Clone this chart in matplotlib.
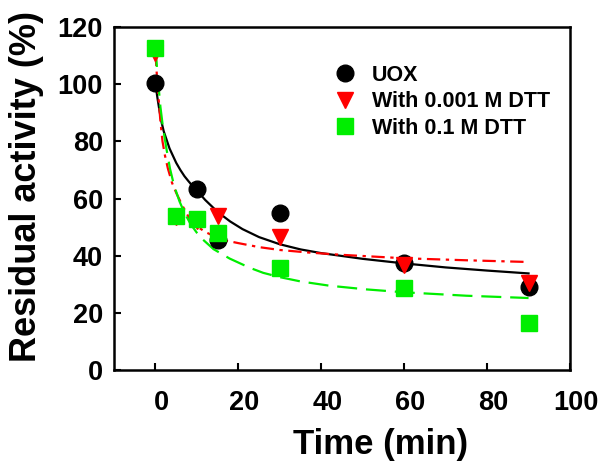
"""Residual activity of UOX over time, with and without DTT"""
import matplotlib
matplotlib.use("Agg")
import matplotlib.pyplot as plt
import matplotlib.transforms as mtransforms

plt.rcParams["font.family"] = ["Liberation Sans", "DejaVu Sans"]
plt.rcParams["font.weight"] = "bold"

# measured points
time_uox = [0, 10, 15, 30, 60, 90]
act_uox = [100.4, 63.5, 45.5, 55, 37.5, 29]
time_low = [0, 5, 10, 15, 30, 60, 90]
act_low = [111, 53.5, 52, 54, 46.5, 36.7, 30.5]
time_high = [0, 5, 10, 15, 30, 60, 90]
act_high = [112.7, 54, 53, 48, 35.7, 28.6, 16.4]

# fitted curves
fit_x_uox = [0, 0.5, 1, 1.5, 2, 2.7, 3.4, 4.2, 5, 6, 7, 8, 9, 10, 12, 15, 18, 21, 25, 30,
             35, 40, 50, 60, 70, 80, 90]
fit_y_uox = [100, 95, 90.5, 86.5, 83.5, 80.5, 77.5, 75, 72.5, 70, 67.8, 66, 64.3, 62.8, 59.5,
             55.3, 52, 49.3, 46.5, 44, 42.2, 40.9, 38.9, 37.3, 35.9, 34.8, 33.8]
fit_x_low = [0, 0.3, 0.7, 1.2, 1.7, 2.3, 3, 4, 5, 6.5, 8.2, 10, 12, 14.7, 17, 20, 25, 30,
             37, 45, 60, 75, 90]
fit_y_low = [111, 104, 96, 87, 80, 75, 70.5, 65.5, 62, 57.5, 53, 50.3, 48.3, 46.5, 45.3,
             44.4, 43, 42, 41.1, 40.3, 39.1, 38.4, 37.8]
fit_x_high = [0, 0.3, 0.7, 1.2, 1.8, 2.7, 3.5, 4.5, 5.8, 7, 8.5, 10, 11.4, 14, 17.9, 22.7,
              26, 30, 35, 42, 51, 60, 75, 90]
fit_y_high = [113, 107, 100, 92, 85, 77, 70.5, 64.5, 59, 55, 51, 48, 45.7, 42.3, 39, 35.8,
              34, 32.5, 31, 29.5, 28.2, 27.2, 26, 25.2]

labels = ["UOX", "With 0.001 M DTT", "With 0.1 M DTT"]
x_ticks = [0, 20, 40, 60, 80, 100]
y_ticks = [0, 20, 40, 60, 80, 100, 120]

fig = plt.figure(figsize=(6.08, 4.62), dpi=100)
ax = fig.add_axes([0.1875, 0.199, 0.75, 0.7426])

ax.plot(fit_x_uox, fit_y_uox, color="black", lw=1.6, zorder=2)
ax.plot(fit_x_low, fit_y_low, color="#ff0000", lw=1.6, ls=(0, (6, 2.5, 1.5, 2.5)), zorder=2)
ax.plot(fit_x_high, fit_y_high, color="#00ee00", lw=1.6, ls=(0, (9, 4)), zorder=2)

ax.plot(time_uox, act_uox, "o", color="black", ms=12, ls="none", label=labels[0], zorder=3)
ax.plot(time_low, act_low, "v", color="#ff0000", ms=12, ls="none", label=labels[1], zorder=4)
ax.plot(time_high, act_high, "s", color="#00ee00", ms=11, ls="none", label=labels[2], zorder=5)

ax.set_xlim(-10, 100)
ax.set_ylim(0, 120)
ax.set_xticks(x_ticks)
ax.set_yticks(y_ticks)
ax.tick_params(direction="in", length=5, width=1.5, labelsize=19.5, top=False, right=False)
ax.tick_params(axis="y", pad=8)
ax.tick_params(axis="x", pad=14)
for lab in ax.get_xticklabels():
    lab.set_transform(lab.get_transform() + mtransforms.ScaledTranslation(6 / 100, 0, fig.dpi_scale_trans))
for s in ax.spines.values():
    s.set_linewidth(1.8)

ax.set_xlabel("Time (min)", fontsize=25, fontweight="bold")
ax.set_ylabel("Residual activity (%)", fontsize=26, fontweight="bold")
ax.xaxis.set_label_coords(0.585, -0.169)
ax.yaxis.set_label_coords(-0.153, 0.535)

ax.legend(loc="upper left", bbox_to_anchor=(0.46, 0.915), frameon=False, fontsize=15.5,
          handletextpad=0.63, labelspacing=0.25, handlelength=1.2, borderaxespad=0)

fig.savefig("out.png", dpi=100)
